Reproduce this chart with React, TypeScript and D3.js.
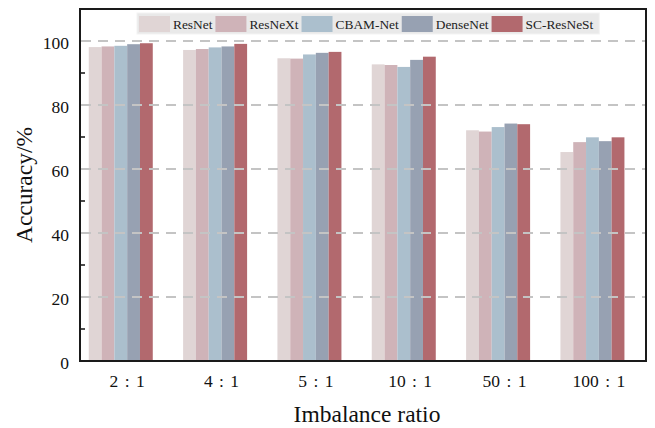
import React, { useEffect, useRef } from "react";
import * as d3 from "d3";

const categories = ["2 : 1", "4 : 1", "5 : 1", "10 : 1", "50 : 1", "100 : 1"];
const seriesNames = ["ResNet", "ResNeXt", "CBAM-Net", "DenseNet", "SC-ResNeSt"];
const seriesColors = ["#e0d5d5", "#cfb3b8", "#abbfcd", "#97a1b2", "#b2696e"];

const resnet = [98.1, 97.2, 94.6, 92.7, 72.1, 65.3];
const resnext = [98.3, 97.5, 94.5, 92.5, 71.7, 68.4];
const cbam = [98.5, 98.0, 95.8, 91.9, 73.1, 69.9];
const densenet = [99.0, 98.3, 96.3, 94.1, 74.2, 68.7];
const scresnest = [99.3, 99.1, 96.6, 95.1, 74.0, 69.9];
const seriesValues = [resnet, resnext, cbam, densenet, scresnest];

const yTicks = [0, 20, 40, 60, 80, 100];
const yMinorTicks = [10, 30, 50, 70, 90];

const W = 655;
const H = 428;
const margin = { left: 80, right: 9, top: 9, bottom: 67 };
const FONT = "'Liberation Serif', 'Times New Roman', serif";

export default function App() {
  const ref = useRef<SVGSVGElement | null>(null);

  useEffect(() => {
    const svg = d3.select(ref.current);
    svg.selectAll("*").remove();

    const x0 = margin.left;
    const x1 = W - margin.right;
    const y0 = H - margin.bottom;
    const y1 = margin.top;

    const x = d3.scaleBand<string>().domain(categories).range([x0, x1]).padding(0);
    const y = d3.scaleLinear().domain([0, 110]).range([y0, y1]);
    const barW = 12.8;

    // bars
    const g = svg.append("g");
    seriesValues.forEach((vals, j) => {
      g.selectAll(null)
        .data(vals)
        .enter()
        .append("rect")
        .attr("x", (_d, i) => (x(categories[i]) as number) + x.bandwidth() / 2 + (j - 3) * barW)
        .attr("width", barW)
        .attr("y", (d) => y(d))
        .attr("height", (d) => y(0) - y(d))
        .attr("fill", seriesColors[j]);
    });

    // dashed grid drawn over the bars
    svg
      .append("g")
      .selectAll("line")
      .data(yTicks.filter((t) => t > 0))
      .enter()
      .append("line")
      .attr("x1", x0 + 1)
      .attr("x2", x1)
      .attr("y1", (d) => y(d))
      .attr("y2", (d) => y(d))
      .attr("stroke", "#c4c4c4")
      .attr("stroke-width", 2)
      .attr("stroke-dasharray", "10,7");

    // minor ticks pointing inward
    svg
      .append("g")
      .selectAll("line")
      .data(yMinorTicks)
      .enter()
      .append("line")
      .attr("x1", x0)
      .attr("x2", x0 + 5)
      .attr("y1", (d) => y(d))
      .attr("y2", (d) => y(d))
      .attr("stroke", "#111")
      .attr("stroke-width", 1.5);

    // frame
    svg
      .append("rect")
      .attr("x", x0)
      .attr("y", y1)
      .attr("width", x1 - x0)
      .attr("height", y0 - y1)
      .attr("fill", "none")
      .attr("stroke", "#1a1a1a")
      .attr("stroke-width", 2);

    // y tick labels
    svg
      .append("g")
      .selectAll("text")
      .data(yTicks)
      .enter()
      .append("text")
      .attr("x", x0 - 11)
      .attr("y", (d) => y(d) + 8)
      .attr("text-anchor", "end")
      .attr("font-family", FONT)
      .attr("font-size", 17.5)
      .attr("fill", "#111")
      .text((d) => d);

    // x tick labels
    svg
      .append("g")
      .selectAll("text")
      .data(categories)
      .enter()
      .append("text")
      .attr("x", (d) => (x(d) as number) + x.bandwidth() / 2)
      .attr("y", y0 + 26)
      .attr("text-anchor", "middle")
      .attr("font-family", FONT)
      .attr("font-size", 17.5)
      .attr("word-spacing", 2)
      .attr("fill", "#111")
      .attr("xml:space", "preserve")
      .text((d) => d);

    // axis titles
    svg
      .append("text")
      .attr("x", (x0 + x1) / 2 + 4)
      .attr("y", 422)
      .attr("text-anchor", "middle")
      .attr("font-family", FONT)
      .attr("font-size", 23.5)
      .attr("fill", "#111")
      .text("Imbalance ratio");

    svg
      .append("text")
      .attr("transform", `translate(32, ${(y0 + y1) / 2}) rotate(-90)`)
      .attr("text-anchor", "middle")
      .attr("font-family", FONT)
      .attr("font-size", 23.5)
      .attr("fill", "#111")
      .text("Accuracy/%");

    // legend
    const lg = svg.append("g");
    const legX = 137;
    const legY = 13;
    const bg = lg
      .append("rect")
      .attr("x", legX)
      .attr("y", legY)
      .attr("height", 21)
      .attr("fill", "#e9e9e9")
      .attr("stroke", "#f3f3f3")
      .attr("stroke-width", 1);
    let cx = legX + 2;
    seriesNames.forEach((name, j) => {
      lg.append("rect")
        .attr("x", cx)
        .attr("y", legY + 3)
        .attr("width", 31)
        .attr("height", 16)
        .attr("fill", seriesColors[j]);
      const t = lg
        .append("text")
        .attr("x", cx + 34)
        .attr("y", legY + 16)
        .attr("font-family", FONT)
        .attr("font-size", 13.4)
        .attr("fill", "#222")
        .text(name);
      const tw = (t.node() as SVGTextElement).getComputedTextLength();
      cx += 34 + tw + 3;
    });
    bg.attr("width", cx - legX + 3);
  }, []);

  return (
    <svg
      ref={ref}
      width={W}
      height={H}
      style={{ display: "block", position: "absolute", left: 0, top: 0, background: "#fff" }}
    />
  );
}
